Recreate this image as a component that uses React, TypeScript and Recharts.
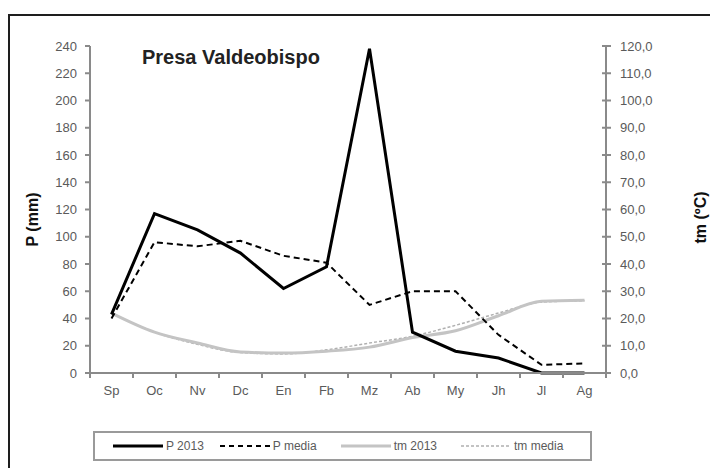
import { LineChart, Line, XAxis, YAxis, Legend } from 'recharts';

const months = ['Sp', 'Oc', 'Nv', 'Dc', 'En', 'Fb', 'Mz', 'Ab', 'My', 'Jh', 'Jl', 'Ag'];
const p2013 = [43, 117, 105, 88, 62, 78, 238, 30, 16, 11, 0, 0];
const pMedia = [40, 96, 93, 97, 86, 81, 50, 60, 60, 28, 6, 7];
const tm2013 = [22, 15, 11, 7.7, 7.3, 8, 9.5, 13, 15.5, 21, 26.3, 26.7];
const tmMedia = [22, 15, 10.5, 7.5, 7, 8.5, 11, 13.5, 17.5, 22, 26, 26.5];
const pTicks = [0, 20, 40, 60, 80, 100, 120, 140, 160, 180, 200, 220, 240];
const tTicks = [0, 10, 20, 30, 40, 50, 60, 70, 80, 90, 100, 110, 120];

const data = months.map((m, i) => ({
  month: m,
  p2013: p2013[i],
  pMedia: pMedia[i],
  tm2013: tm2013[i],
  tmMedia: tmMedia[i],
}));

const FONT = '"Liberation Sans", Arial, sans-serif';
const AXIS = '#8a8a8a';
const LABEL = '#5a5a5a';
const HALF_BAND = 21.5;

const legendItems = [
  { name: 'P 2013', color: '#000', width: 3, dash: undefined },
  { name: 'P media', color: '#000', width: 2, dash: '5 4' },
  { name: 'tm 2013', color: '#c4c4c4', width: 3, dash: undefined },
  { name: 'tm media', color: '#b0b0b0', width: 1.5, dash: '3 2' },
];

const XTick = (props: any) => {
  const { x, y, payload, index } = props;
  return (
    <g>
      <line x1={x - HALF_BAND} y1={y} x2={x - HALF_BAND} y2={y + 5} stroke={AXIS} strokeWidth={2} />
      {index === months.length - 1 && (
        <line x1={x + HALF_BAND} y1={y} x2={x + HALF_BAND} y2={y + 5} stroke={AXIS} strokeWidth={2} />
      )}
      <text x={x} y={y + 17} dy="0.355em" textAnchor="middle" fill={LABEL} fontSize={13} fontFamily={FONT}>
        {payload.value}
      </text>
    </g>
  );
};

const LeftTick = (props: any) => {
  const { x, y, payload } = props;
  return (
    <g>
      <line x1={x - 5} y1={y} x2={x} y2={y} stroke={AXIS} strokeWidth={2} />
      <text x={x - 13} y={y} dy="0.355em" textAnchor="end" fill={LABEL} fontSize={13} fontFamily={FONT}>
        {payload.value}
      </text>
    </g>
  );
};

const RightTick = (props: any) => {
  const { x, y, payload } = props;
  return (
    <g>
      <line x1={x - 4} y1={y} x2={x + 5} y2={y} stroke={AXIS} strokeWidth={2} />
      <text x={x + 14} y={y} dy="0.355em" textAnchor="start" fill={LABEL} fontSize={13} fontFamily={FONT}>
        {Number(payload.value).toFixed(1).replace('.', ',')}
      </text>
    </g>
  );
};

const axisTitle = (text: string, side: 'left' | 'right') => (props: any) => {
  const vb = props.viewBox || {};
  const cx = side === 'left' ? vb.x - 8 : vb.x + vb.width + 24;
  const cy = vb.y + vb.height / 2 + (side === 'left' ? 10 : 8);
  return (
    <text
      x={cx}
      y={cy}
      transform={`rotate(-90, ${cx}, ${cy})`}
      textAnchor="middle"
      dy="0.355em"
      fill="#111"
      fontSize={16}
      fontWeight="bold"
      fontFamily={FONT}
    >
      {text}
    </text>
  );
};

const LegendBox = () => (
  <div
    style={{
      boxSizing: 'border-box',
      width: 499,
      height: 30,
      border: '2px solid #9a9a9a',
      display: 'flex',
      alignItems: 'center',
      paddingLeft: 18,
      gap: 14,
      fontFamily: FONT,
      fontSize: 12,
      color: LABEL,
      background: '#fff',
    }}
  >
    {legendItems.map((it) => (
      <div key={it.name} style={{ display: 'flex', alignItems: 'center' }}>
        <svg width={50} height={8}>
          <line x1={0} y1={4} x2={50} y2={4} stroke={it.color} strokeWidth={it.width} strokeDasharray={it.dash} />
        </svg>
        <span style={{ marginLeft: 3, marginRight: it.name === 'P 2013' ? 2 : 10 }}>{it.name}</span>
      </div>
    ))}
  </div>
);

export default function App() {
  return (
    <div style={{ position: 'absolute', left: 0, top: 0, width: 710, height: 468, overflow: 'hidden', background: '#fff' }}>
      <div
        style={{
          position: 'absolute',
          left: 8,
          top: 14,
          width: 720,
          height: 480,
          border: '2px solid #1e1e1e',
        }}
      />
      <div
        style={{
          position: 'absolute',
          left: 142,
          top: 46,
          fontFamily: FONT,
          fontWeight: 'bold',
          fontSize: 20,
          color: '#222',
          zIndex: 2,
        }}
      >
        Presa Valdeobispo
      </div>
      <div style={{ position: 'absolute', left: 0, top: 0 }}>
        <LineChart width={710} height={468} data={data} margin={{ top: 46, right: 34, left: 40, bottom: 65 }}>
          <XAxis
            dataKey="month"
            height={30}
            padding={{ left: HALF_BAND, right: HALF_BAND }}
            stroke={AXIS}
            strokeWidth={2}
            tickSize={0}
            tickMargin={0}
            tickLine={false}
            tick={XTick}
            interval={0}
          />
          <YAxis
            yAxisId="p"
            width={50}
            domain={[0, 240]}
            ticks={pTicks}
            stroke={AXIS}
            strokeWidth={2}
            tickSize={0}
            tickMargin={0}
            tickLine={false}
            tick={LeftTick}
            interval={0}
            label={{ content: axisTitle('P (mm)', 'left') }}
          />
          <YAxis
            yAxisId="t"
            orientation="right"
            width={70}
            domain={[0, 120]}
            ticks={tTicks}
            stroke={AXIS}
            strokeWidth={2}
            tickSize={0}
            tickMargin={0}
            tickLine={false}
            tick={RightTick}
            interval={0}
            label={{ content: axisTitle('tm (ºC)', 'right') }}
          />
          <Legend
            verticalAlign="middle"
            align="center"
            layout="horizontal"
            wrapperStyle={{ left: 93, top: 431, width: 499, height: 30 }}
            content={() => <LegendBox />}
          />
          <Line
            yAxisId="t"
            type="monotone"
            dataKey="tmMedia"
            name="tm media"
            stroke="#b0b0b0"
            strokeWidth={1.5}
            strokeDasharray="3 2"
            dot={false}
            isAnimationActive={false}
          />
          <Line
            yAxisId="t"
            type="monotone"
            dataKey="tm2013"
            name="tm 2013"
            stroke="#c4c4c4"
            strokeWidth={3}
            dot={false}
            isAnimationActive={false}
          />
          <Line
            yAxisId="p"
            type="linear"
            dataKey="pMedia"
            name="P media"
            stroke="#000"
            strokeWidth={2}
            strokeDasharray="6 4"
            dot={false}
            isAnimationActive={false}
          />
          <Line
            yAxisId="p"
            type="linear"
            dataKey="p2013"
            name="P 2013"
            stroke="#000"
            strokeWidth={3}
            dot={false}
            isAnimationActive={false}
          />
        </LineChart>
      </div>
    </div>
  );
}
